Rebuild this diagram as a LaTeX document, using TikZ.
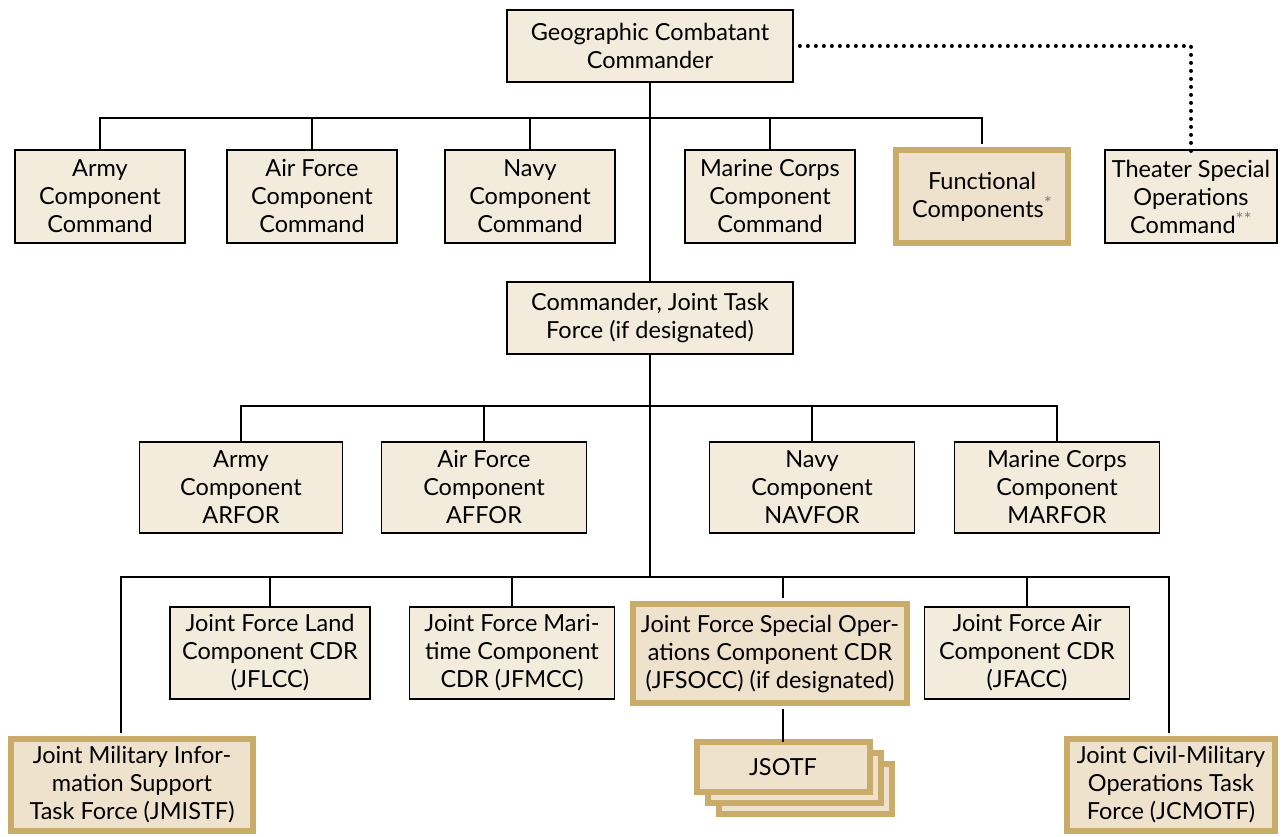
\documentclass[tikz,border=0pt]{standalone}
\usepackage{fontspec}
\setmainfont{Lato}
\definecolor{fillc}{HTML}{F3EBDC}
\definecolor{fillf}{HTML}{EEE2CC}
\definecolor{tanc}{HTML}{C9AB6A}
\newcommand{\astk}[1]{\raisebox{0.55ex}{\fontsize{19}{19}\selectfont\textcolor{black!50}{#1}}}
\begin{document}
\begin{tikzpicture}[x=1pt,y=-1pt,
  every node/.style={font=\fontsize{23.5}{28}\selectfont, align=center, inner sep=0pt},
  box/.style={draw=black, fill=fillc, line width=1.8pt},
  tbox/.style={draw=tanc, fill=fillf, line width=6pt},
  wire/.style={line width=1.8pt},
  dotline/.style={line width=4pt, dash pattern=on 0pt off 8pt, line cap=round}]
\useasboundingbox (0,0) rectangle (1283,836);
% top
\node[box, minimum width=286, minimum height=72] (gcc) at (650,46) {Geographic Combatant\\Commander};
% row 1
\node[box, minimum width=170, minimum height=93] (a1) at (100,196.5) {Army\\Component\\Command};
\node[box, minimum width=170, minimum height=93] (f1) at (312,196.5) {Air Force\\Component\\Command};
\node[box, minimum width=170, minimum height=93] (n1) at (530,196.5) {Navy\\Component\\Command};
\node[box, minimum width=170, minimum height=93] (m1) at (770,196.5) {Marine Corps\\Component\\Command};
\node[tbox, minimum width=172, minimum height=93] (fc) at (982,196.5) {Functional\\Components\astk{*}};
\node[box, minimum width=172, minimum height=93] (tsoc) at (1191,196.5) {Theater Special\\Operations\\Command\astk{**}};
% CJTF
\node[box, minimum width=286, minimum height=72] (cjtf) at (650,318) {Commander, Joint Task\\Force (if designated)};
% row 2
\node[box, minimum width=203, minimum height=91] (a2) at (241,487.5) {Army\\Component\\ARFOR};
\node[box, minimum width=205, minimum height=91] (f2) at (484,487.5) {Air Force\\Component\\AFFOR};
\node[box, minimum width=205, minimum height=91] (n2) at (812,487.5) {Navy\\Component\\NAVFOR};
\node[box, minimum width=205, minimum height=91] (m2) at (1057,487.5) {Marine Corps\\Component\\MARFOR};
% row 3
\node[box, minimum width=200, minimum height=92] (jflcc) at (270,653) {Joint Force Land\\Component CDR\\(JFLCC)};
\node[box, minimum width=205, minimum height=92] (jfmcc) at (512,653) {Joint Force Mari-\\time Component\\CDR (JFMCC)};
\node[tbox, minimum width=274, minimum height=99] (jfsocc) at (770,653.5) {Joint Force Special Oper-\\ations Component CDR\\(JFSOCC) (if designated)};
\node[box, minimum width=205, minimum height=92] (jfacc) at (1027,653) {Joint Force Air\\Component CDR\\(JFACC)};
% bottom
\node[tbox, minimum width=242, minimum height=92] (jmistf) at (132,785) {Joint Military Infor-\\mation Support\\Task Force (JMISTF)};
\node[tbox, minimum width=208, minimum height=92] (jcmotf) at (1171,785) {Joint Civil-Military\\Operations Task\\Force (JCMOTF)};
% JSOTF stack
\node[tbox, minimum width=173, minimum height=50] (s3) at (805,789) {};
\node[tbox, minimum width=173, minimum height=50] (s2) at (794,778) {};
\node[tbox, minimum width=173, minimum height=50] (jsotf) at (783,767) {JSOTF};
% buses
\coordinate (b1) at (650,118);
\coordinate (b2) at (650,406);
\coordinate (b3) at (650,577);
\draw[wire] (gcc.south) -- (cjtf.north);
\draw[wire] (a1.north) |- (b1);
\draw[wire] (f1.north) |- (b1);
\draw[wire] (n1.north) |- (b1);
\draw[wire] (m1.north) |- (b1);
\draw[wire] (fc.north) ++(0,-3) |- (b1);
\draw[wire] (cjtf.south) -- (b3);
\draw[wire] (a2.north) |- (b2);
\draw[wire] (f2.north) |- (b2);
\draw[wire] (n2.north) |- (b2);
\draw[wire] (m2.north) |- (b2);
\draw[wire] (jmistf.north) ++(-11,-3) |- (b3);
\draw[wire] (jcmotf.north) ++(-2,-3) |- (b3);
\draw[wire] (jflcc.north) |- (b3);
\draw[wire] (jfmcc.north) |- (b3);
\draw[wire] (jfacc.north) |- (b3);
\draw[wire] (jsotf.north |- jfsocc.north) ++(0,-3) |- (b3);
\draw[wire] (jsotf.north |- jfsocc.south) ++(0,3) -- ([yshift=-3pt]jsotf.north);
\draw[dotline] ([xshift=6pt]gcc.east) -| ([yshift=-6pt]tsoc.north);
\end{tikzpicture}
\end{document}
